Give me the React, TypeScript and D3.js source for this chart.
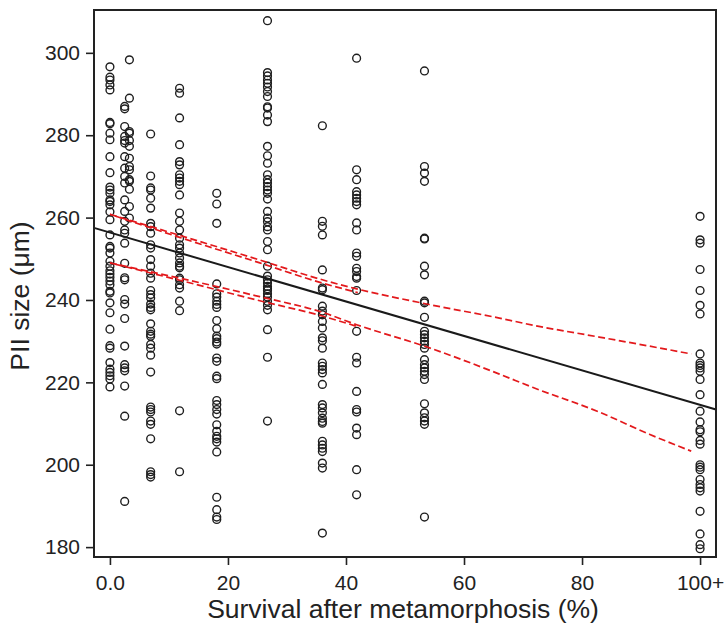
import { useEffect, useRef } from "react";
import * as d3 from "d3";

// survival columns (x) and PII sizes
const colX = [0, 2.5, 3.3, 6.9, 11.8, 18.1, 26.7, 36, 41.8, 53.3, 100];

const col00 = [296.6, 294.1, 293.4, 292.2, 291.0, 283.1, 282.8, 280.5, 278.9, 274.8, 270.9, 267.4, 266.7, 265.9, 264.3, 263.9, 263.1, 261.4, 259.5, 255.8, 253.0, 252.6, 251.4, 249.4, 248.2, 247.1, 246.3, 245.5, 244.6, 243.7, 242.1, 241.7, 239.3, 236.9, 232.9, 228.9, 228.3, 224.8, 223.2, 222.4, 221.6, 220.8, 218.9];
const col02a = [287.0, 286.4, 282.1, 279.7, 278.7, 278.1, 274.8, 272.0, 270.0, 268.4, 264.3, 261.5, 259.1, 257.0, 256.2, 253.8, 248.9, 245.4, 244.9, 240.1, 239.0, 235.5, 228.8, 224.3, 223.5, 222.8, 219.1, 211.8, 191.1];
const col02b = [298.3, 289.0, 280.9, 280.5, 278.7, 277.3, 274.4, 272.4, 271.6, 269.2, 268.8, 266.9, 262.7, 259.9];
const col07 = [280.3, 270.1, 267.2, 266.7, 264.7, 262.3, 258.6, 257.8, 256.2, 253.4, 252.6, 249.8, 248.2, 246.5, 245.3, 242.3, 241.3, 240.5, 239.0, 238.2, 237.6, 234.2, 232.4, 231.7, 231.2, 229.2, 228.3, 226.6, 222.5, 214.0, 213.4, 212.8, 210.6, 209.8, 206.3, 198.3, 197.6, 197.0];
const col12 = [291.4, 290.2, 284.2, 277.7, 273.6, 272.8, 270.4, 269.6, 268.8, 268.0, 265.5, 261.1, 259.1, 257.0, 255.0, 253.4, 252.6, 251.4, 250.2, 249.0, 248.2, 247.8, 245.3, 244.9, 243.7, 242.9, 239.7, 237.4, 213.1, 198.3];
const col18 = [265.9, 263.3, 258.6, 243.9, 241.5, 240.7, 239.7, 238.9, 238.2, 235.0, 233.0, 231.2, 230.6, 229.8, 229.3, 225.9, 225.1, 221.5, 220.9, 215.6, 214.6, 213.4, 212.3, 209.7, 208.1, 206.9, 206.3, 205.5, 203.1, 192.1, 189.1, 187.3, 186.7];
const col27 = [307.8, 295.2, 294.4, 293.4, 292.6, 291.7, 290.6, 289.4, 286.9, 286.6, 284.9, 283.3, 277.3, 275.0, 273.2, 270.4, 269.2, 268.4, 267.5, 266.7, 265.9, 264.5, 261.5, 259.9, 259.0, 257.8, 257.0, 254.2, 252.2, 248.2, 245.8, 244.9, 244.1, 243.3, 242.7, 242.3, 241.5, 240.7, 239.7, 238.7, 237.6, 232.8, 226.1, 210.6];
const col36 = [282.3, 259.1, 257.9, 255.8, 247.3, 242.9, 242.5, 238.5, 237.3, 236.4, 234.8, 233.2, 230.8, 230.1, 228.3, 224.7, 223.9, 223.1, 222.3, 219.5, 214.6, 213.8, 212.6, 211.3, 210.5, 210.1, 205.7, 204.8, 204.0, 203.2, 200.4, 199.2, 183.4];
const col42 = [298.7, 271.6, 269.2, 266.3, 265.5, 264.7, 263.9, 263.1, 258.7, 257.0, 251.4, 250.6, 247.7, 246.9, 245.7, 245.3, 242.3, 232.4, 226.1, 224.7, 217.8, 213.4, 212.8, 208.9, 207.3, 198.8, 192.7];
const col53 = [295.6, 272.4, 270.8, 268.8, 255.0, 254.8, 248.2, 246.1, 239.7, 239.3, 235.8, 232.4, 231.6, 230.8, 230.0, 229.2, 228.3, 225.5, 224.3, 223.5, 222.7, 221.9, 220.7, 214.8, 212.6, 211.4, 210.6, 209.8, 187.3];
const col100 = [260.3, 254.6, 253.8, 247.4, 242.3, 238.7, 236.6, 226.9, 224.7, 224.1, 223.5, 222.7, 220.7, 217.0, 213.0, 210.4, 208.5, 208.0, 205.9, 205.0, 200.0, 199.4, 198.8, 196.4, 195.2, 194.4, 193.6, 188.7, 183.2, 180.6, 179.6];

const columns = [col00, col02a, col02b, col07, col12, col18, col27, col36, col42, col53, col100];

// fitted line and confidence bands
const fitX = [-2.7, 102.7];
const fitY = [257.5, 213.4];

const bandX = [0, 11.8, 25.4, 36, 41.8, 54.1, 66, 71.6, 82.9, 91.4, 98.5];
const upperY = [260.8, 255.7, 249.7, 244.9, 242.7, 238.9, 235.6, 233.9, 231.0, 228.8, 226.9];
const lowerY = [249.0, 245.3, 240.8, 237.0, 234.0, 228.4, 222.0, 218.8, 212.8, 207.4, 203.3];

const band2X = [0, 11.8, 25.4, 36, 42];
const upper2Y = [260.8, 255.2, 249.0, 244.1, 241.8];
const lower2Y = [249.0, 244.8, 239.8, 236.1, 233.5];

const xTicks = [0, 20, 40, 60, 80, 100];
const xTickLabels = ["0.0", "20", "40", "60", "80", "100+"];
const yTicks = [180, 200, 220, 240, 260, 280, 300];

const FONT = "'Liberation Sans', Arial, Helvetica, sans-serif";
const RED = "#e3191c";

export default function App() {
  const ref = useRef<SVGSVGElement>(null);

  useEffect(() => {
    const svg = d3.select(ref.current);
    svg.selectAll("*").remove();

    const left = 94, right = 716, top = 10, bottom = 557;
    const x = d3.scaleLinear().domain([-2.7, 102.7]).range([left, right]);
    const y = d3.scaleLinear().domain([177.6, 310.4]).range([bottom, top]);

    svg.append("rect").attr("width", 725).attr("height", 625).attr("fill", "white");

    const line = d3.line<[number, number]>()
      .x(d => x(d[0]))
      .y(d => y(d[1]))
      .curve(d3.curveMonotoneX);

    // points
    const pts: [number, number][] = [];
    columns.forEach((col, i) => col.forEach(v => pts.push([colX[i], v])));
    svg.append("g")
      .selectAll("circle")
      .data(pts)
      .join("circle")
      .attr("cx", d => x(d[0]))
      .attr("cy", d => y(d[1]))
      .attr("r", 3.9)
      .attr("fill", "none")
      .attr("stroke", "#1e1e1e")
      .attr("stroke-width", 1.4);

    // confidence bands
    const bands = [
      { xs: bandX, ys: upperY, off: 0 },
      { xs: bandX, ys: lowerY, off: 0 },
      { xs: band2X, ys: upper2Y, off: 5 },
      { xs: band2X, ys: lower2Y, off: 5 },
    ];
    bands.forEach(b => {
      svg.append("path")
        .attr("d", line(b.xs.map((v, i) => [v, b.ys[i]] as [number, number])))
        .attr("fill", "none")
        .attr("stroke", RED)
        .attr("stroke-width", 1.7)
        .attr("stroke-dasharray", "7 3.5")
        .attr("stroke-dashoffset", b.off);
    });

    // regression line
    svg.append("path")
      .attr("d", line(fitX.map((v, i) => [v, fitY[i]] as [number, number])))
      .attr("fill", "none")
      .attr("stroke", "#1a1a1a")
      .attr("stroke-width", 2);

    // axes
    const xAxis = svg.append("g")
      .attr("transform", `translate(0,${bottom})`)
      .call(d3.axisBottom(x).tickValues(xTicks).tickSize(8).tickPadding(10)
        .tickFormat((_, i) => xTickLabels[i]));
    const yAxis = svg.append("g")
      .attr("transform", `translate(${left},0)`)
      .call(d3.axisLeft(y).tickValues(yTicks).tickSize(8).tickPadding(6));

    [xAxis, yAxis].forEach(a => {
      a.select(".domain").remove();
      a.selectAll("line").attr("stroke", "#222").attr("stroke-width", 1.6);
      a.selectAll("text")
        .attr("fill", "#222")
        .style("font-family", FONT)
        .style("font-size", "21px");
    });

    // frame
    svg.append("rect")
      .attr("x", left).attr("y", top)
      .attr("width", right - left).attr("height", bottom - top)
      .attr("fill", "none")
      .attr("stroke", "#222")
      .attr("stroke-width", 2);

    svg.append("text")
      .attr("x", 403).attr("y", 618)
      .attr("text-anchor", "middle")
      .attr("fill", "#222")
      .style("font-family", FONT)
      .style("font-size", "26.5px")
      .text("Survival after metamorphosis (%)");

    svg.append("text")
      .attr("transform", "rotate(-90)")
      .attr("x", -296).attr("y", 29)
      .attr("text-anchor", "middle")
      .attr("fill", "#222")
      .style("font-family", FONT)
      .style("font-size", "26.5px")
      .text("PII size (μm)");
  }, []);

  return (
    <div style={{ position: "absolute", left: 0, top: 0 }}>
      <svg ref={ref} width={725} height={625} style={{ display: "block" }} />
    </div>
  );
}
